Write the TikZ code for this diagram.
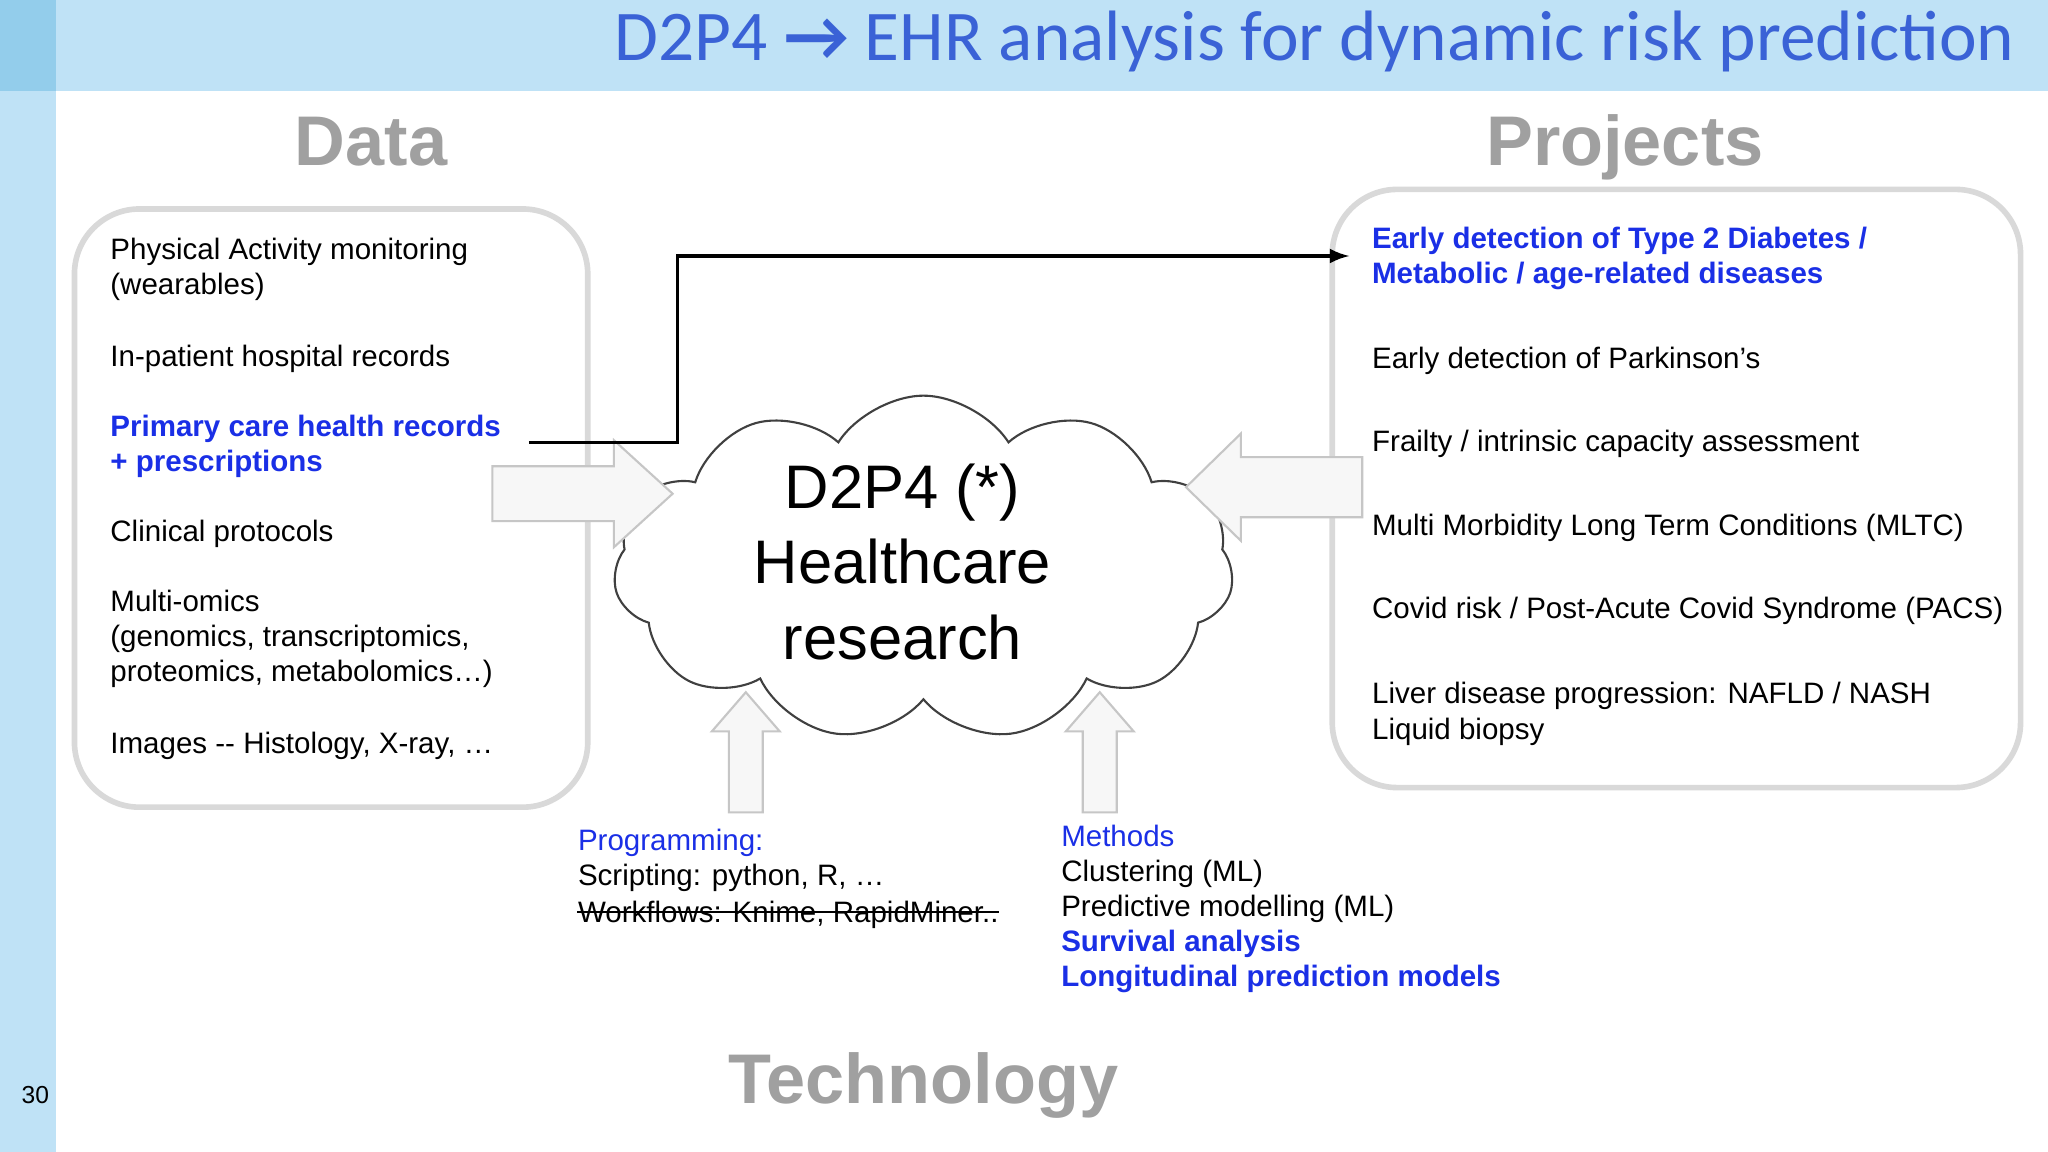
\documentclass[tikz,border=0pt]{standalone}
\usepackage{amsmath}
\usepackage{fontspec}
\setmainfont{Liberation Sans}
\newfontfamily\titlefont{Carlito}
\usetikzlibrary{positioning}
\usetikzlibrary{shapes.symbols}
\definecolor{barblue}{HTML}{BFE2F6}
\definecolor{cornerblue}{HTML}{93CDEB}
\definecolor{txtblue}{HTML}{1A2FE6}
\definecolor{ttlblue}{HTML}{3A62D6}
\definecolor{boxgray}{HTML}{D9D9D9}
\definecolor{headgray}{HTML}{A0A0A0}
\tikzset{
t/.style={
  anchor=north west,
  align=left,
  inner sep=0pt,
  font=\fontsize{8.4}{10}\selectfont
  },
head/.style={
  anchor=base,
  text=headgray,
  font=\fontsize{20}{24}\selectfont\bfseries
  },
box/.style={
  draw=boxgray,
  line width=1.6pt,
  rounded corners=0.65cm
  },
blk/.style={
  draw=gray!45,
  fill=gray!6,
  line width=0.6pt
  }
}
\newcommand{\bl}[1]{\textcolor{txtblue}{#1}}
\begin{document}
\begin{tikzpicture}[x=0.01306cm,y=-0.01306cm,>=latex]
\useasboundingbox (0,0) rectangle (1568,882);
% background
\fill[white] (0,0) rectangle (1568,882);
\fill[barblue] (0,0) rectangle (1568,70);
\fill[barblue] (0,0) rectangle (43,882);
\fill[cornerblue] (0,0) rectangle (43,70);
\node[text=ttlblue,anchor=east,font=\titlefont\fontsize{20.3}{23}\selectfont] (title) at (1552,32) {D2P4 \textbf{→} EHR analysis for dynamic risk prediction};
\node[font=\fontsize{7}{8}\selectfont] (page) at (27,838) {30};
% headings
\node[head] (data) at (284,127) {Data};
\node[head] (proj) at (1244,127) {Projects};
\node[head] (tech) at (707,845) {Technology};
% boxes
\draw[box] (57,160) rectangle (450,618);
\draw[box] (1020,145) rectangle (1547,603);
% cloud
\node[cloud,cloud puffs=11,cloud puff arc=115,aspect=1.8,draw=black!75,fill=white,
  minimum width=6.2cm,minimum height=3.45cm,line width=0.6pt,
  inner sep=0pt] (cl) at (707,435) {};
\node[align=center,font=\fontsize{17.5}{21.5}\selectfont] (d2p4) at (691,430) {D2P4 (*)\\Healthcare\\research};
% block arrows
\draw[blk] (377,357) -- (470,357) -- (470,337) -- (515,378) -- (470,419) -- (470,399) -- (377,399) -- cycle;
\draw[blk] (1043,350) -- (950,350) -- (950,332) -- (908,373) -- (950,414) -- (950,396) -- (1043,396) -- cycle;
\draw[blk] (558,622) -- (558,560) -- (545,560) -- (571,530) -- (597,560) -- (584,560) -- (584,622) -- cycle;
\draw[blk] (829,622) -- (829,560) -- (816,560) -- (842,530) -- (868,560) -- (855,560) -- (855,622) -- cycle;
% data
\node[t] (pa) at (84,182) {Physical Activity monitoring\\(wearables)};
\node[t] (hosp) at (84,264) {In-patient hospital records};
\node[t,font=\fontsize{8.4}{10}\selectfont\bfseries] (prim) at (84,317) {\bl{Primary care health records}\\\bl{+ prescriptions}};
\node[t] (clin) at (84,398) {Clinical protocols};
\node[t] (omics) at (84,451) {Multi-omics\\(genomics, transcriptomics,\\proteomics, metabolomics\ldots)};
\node[t] (img) at (84,560) {Images -{}- Histology, X-ray, \ldots};
% projects
\node[t,font=\fontsize{8.4}{10}\selectfont\bfseries] (t2d) at (1050,173) {\bl{Early detection of Type 2 Diabetes /}\\\bl{Metabolic / age-related diseases}};
\node[t] (park) at (1050,265) {Early detection of Parkinson’s};
\node[t] (frail) at (1050,329) {Frailty / intrinsic capacity assessment};
\node[t] (mltc) at (1050,393) {Multi Morbidity Long Term Conditions (MLTC)};
\node[t] (covid) at (1050,457) {Covid risk / Post-Acute Covid Syndrome (PACS)};
\node[t] (liver) at (1050,522) {Liver disease progression: NAFLD / NASH\\Liquid biopsy};
% technology
\node[t] (prog) at (442,634) {\bl{Programming:}\\Scripting: python, R, \ldots};
\node[t] (wf) at (442,689) {Workflows: Knime, RapidMiner..};
\draw[line width=0.6pt] ([yshift=-3.5pt]wf.north west) -- ([yshift=-3.5pt]wf.north east);
\node[t] (meth) at (812,631) {\bl{Methods}\\Clustering (ML)\\Predictive modelling (ML)\\\bl{\textbf{Survival analysis}}\\\bl{\textbf{Longitudinal prediction models}}};
% connector
\coordinate (ps) at (405,339);
\coordinate (pe) at (1033,196);
\draw[->,line width=0.9pt] (ps) -- (519,339) |- (pe);
\end{tikzpicture}
\end{document}
